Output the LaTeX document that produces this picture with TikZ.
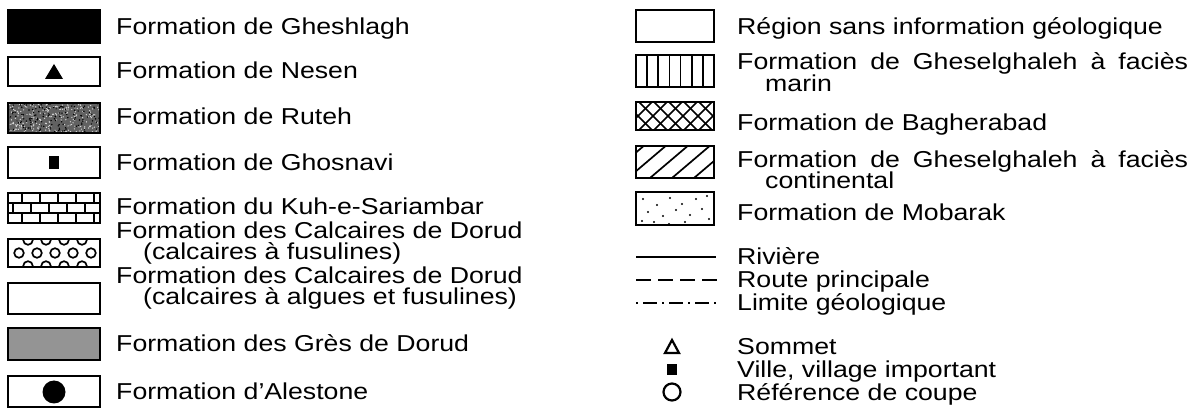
\documentclass[tikz,border=0pt]{standalone}
\usepackage{fontspec}
\setmainfont{Liberation Sans}[FakeStretch=1.16]
\newcommand\legfont{\fontsize{23}{23}\selectfont}
\begin{document}
\begin{tikzpicture}[x=1pt,y=-1pt,
  lbox/.style={draw,line width=2.4pt},
  lbl/.style={anchor=base west,inner sep=0pt,font=\legfont},
  pat/.style={line width=1.7pt},
  sym/.style={line width=2.2pt}]
\useasboundingbox (0,0) rectangle (1200,411);
\pgfmathsetseed{7}
% ---------------- left column ----------------
% 1 Gheshlagh
\fill[black] (8,10) rectangle (100,43);
\draw[lbox] (8,10) rectangle (100,43);
\node[lbl] (t1) at (116,35) {Formation de Gheshlagh};
% 2 Nesen
\draw[lbox] (8,57) rectangle (100,86);
\fill (45,79) -- (63,79) -- (54,64) -- cycle;
\node[lbl] (t2) at (116,79) {Formation de Nesen};
% 3 Ruteh
\fill[black!62] (8,103) rectangle (100,133);
\foreach \i in {1,...,260}{
  \pgfmathsetmacro\rx{8+92*rnd}\pgfmathsetmacro\ry{103+30*rnd}
  \fill[white!85!black] (\rx,\ry) circle (0.7);}
\foreach \i in {1,...,150}{
  \pgfmathsetmacro\rx{8+92*rnd}\pgfmathsetmacro\ry{103+30*rnd}
  \fill[black] (\rx,\ry) circle (0.8);}
\draw[lbox] (8,103) rectangle (100,133);
\node[lbl] (t3) at (116,125) {Formation de Ruteh};
% 4 Ghosnavi
\draw[lbox] (8,147) rectangle (100,178);
\fill (49,156) rectangle (59,169);
\node[lbl] (t4) at (116,171) {Formation de Ghosnavi};
% 5 Kuh-e-Sariambar (bricks)
\begin{scope}
\clip (8,193) rectangle (100,223);
\draw[pat] (8,203) -- (100,203) (8,213) -- (100,213);
\foreach \x in {22,40,58,76,94}{\draw[pat] (\x,193) -- (\x,203) (\x,213) -- (\x,223);}
\foreach \x in {13,31,49,67,85}{\draw[pat] (\x,203) -- (\x,213);}
\end{scope}
\draw[lbox] (8,193) rectangle (100,223);
\node[lbl] (t5) at (116,215) {Formation du Kuh-e-Sariambar};
% 6 Calcaires de Dorud (fusulines) (circles)
\begin{scope}
\clip (8,239) rectangle (100,267);
\foreach \x in {28,46,64,82}{\draw[pat] (\x,240) circle (4.8) (\x,266) circle (4.8);}
\foreach \x in {19,37,55,73,91}{\draw[pat] (\x,253) circle (4.8);}
\end{scope}
\draw[lbox] (8,239) rectangle (100,267);
\node[lbl] (t6a) at (116,239) {Formation des Calcaires de Dorud};
\node[lbl] (t6b) at (143,260) {(calcaires à fusulines)};
% 7 Calcaires de Dorud (algues)
\draw[lbox] (8,283) rectangle (100,314);
\node[lbl] (t7a) at (116,284) {Formation des Calcaires de Dorud};
\node[lbl] (t7b) at (143,305) {(calcaires à algues et fusulines)};
% 8 Grès de Dorud
\fill[black!42] (8,328) rectangle (100,360);
\draw[lbox] (8,328) rectangle (100,360);
\node[lbl] (t8) at (116,352) {Formation des Grès de Dorud};
% 9 Alestone
\draw[lbox] (8,376) rectangle (100,407);
\fill (54,392) circle (11.5);
\node[lbl] (t9) at (116,400) {Formation d’Alestone};
% ---------------- right column ----------------
% R1
\draw[lbox] (636,10) rectangle (714,42);
\node[lbl] (r1) at (737,35) {Région sans information géologique};
% R2 vertical lines
\foreach \k in {1,...,6}{\draw[pat] ({636+78*\k/7},55) -- ({636+78*\k/7},87);}
\draw[lbox] (636,55) rectangle (714,87);
\node[lbl] (r2a) at (737,70) {Formation\hspace{13pt}de\hspace{13pt}Gheselghaleh\hspace{13pt}à\hspace{13pt}faciès};
\node[lbl] (r2b) at (765,92) {marin};
% R3 crosshatch
\begin{scope}
\clip (636,102) rectangle (714,130);
\foreach \k in {-42,-27,...,90}{\draw[pat] (636+\k,102) -- ++(28,28);
  \draw[pat] (636+\k,130) -- ++(28,-28);}
\end{scope}
\draw[lbox] (636,102) rectangle (714,130);
\node[lbl] (r3) at (737,131) {Formation de Bagherabad};
% R4 diagonal
\begin{scope}
\clip (636,146) rectangle (714,178);
\foreach \k in {-30,-8,14,36,58,80}{\draw[pat] (636+\k,178) -- ++(40,-34);}
\end{scope}
\draw[lbox] (636,146) rectangle (714,178);
\node[lbl] (r4a) at (737,168) {Formation\hspace{13pt}de\hspace{13pt}Gheselghaleh\hspace{13pt}à\hspace{13pt}faciès};
\node[lbl] (r4b) at (765,189) {continental};
% R5 dots
\foreach \p in {(643,199),(657,205),(670,198),(682,204),(696,199),(707,196),(648,212),(663,216),(676,210),(690,215),(702,209),(709,219),(642,221),(654,222),(669,224),(685,222)}{\fill \p circle (1.2);}
\draw[lbox] (636,192) rectangle (714,225);
\node[lbl] (r5) at (737,221) {Formation de Mobarak};
% lines
\coordinate (l1a) at (636,257); \coordinate (l1b) at (716,257);
\draw[line width=2pt] (l1a) -- (l1b);
\node[lbl] (r6) at (737,265) {Rivière};
\coordinate (l2a) at (636,280); \coordinate (l2b) at (717,280);
\draw[line width=2pt,dash pattern=on 15pt off 7pt] (l2a) -- (l2b);
\node[lbl] (r7) at (737,288) {Route principale};
\coordinate (l3a) at (636,303); \coordinate (l3b) at (717,303);
\draw[line width=2pt,dash pattern=on 2pt off 5pt on 14pt off 5pt] (l3a) -- (l3b);
\node[lbl] (r8) at (737,311) {Limite géologique};
% symbols
\draw[sym,line join=miter] (665,353) -- (679,353) -- (672,340) -- cycle;
\node[lbl] (r9) at (737,355) {Sommet};
\fill (667,364) rectangle (677,375);
\node[lbl] (r10) at (737,378) {Ville, village important};
\draw[sym] (672,392) circle (8.5);
\node[lbl] (r11) at (737,401) {Référence de coupe};
\end{tikzpicture}
\end{document}
